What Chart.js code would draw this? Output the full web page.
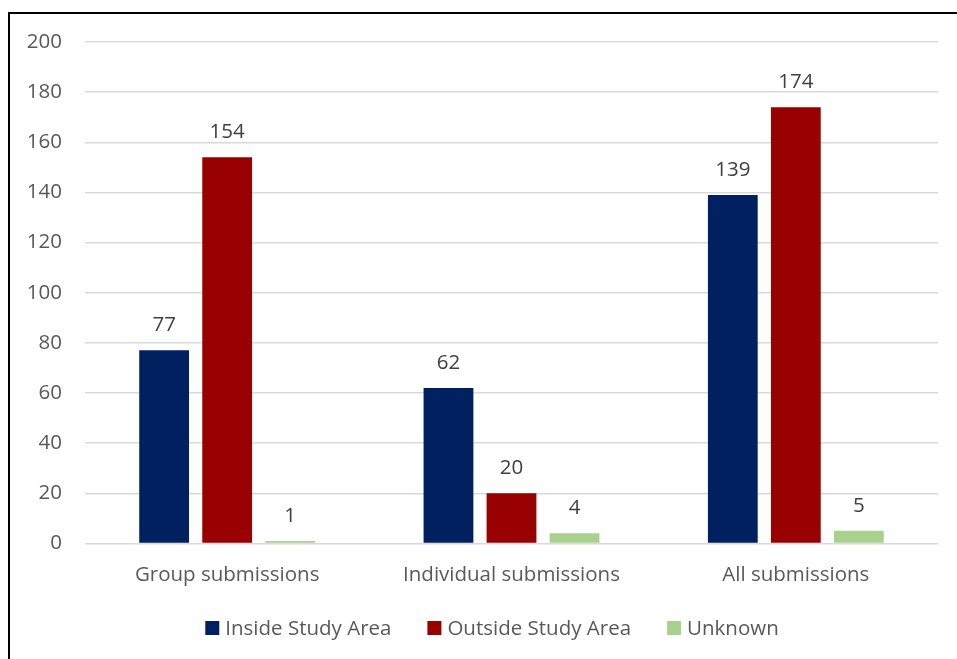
<!DOCTYPE html>
<html>
<head>
<meta charset="utf-8">
<script src="https://cdn.jsdelivr.net/npm/chart.js@4.4.1/dist/chart.umd.min.js"></script>
<style>
  html, body { margin: 0; padding: 0; width: 957px; height: 659px; overflow: hidden; background: #fff; }
  #wrap { position: absolute; left: 0; top: 0; width: 957px; height: 659px; }
  #frame { position: absolute; left: 8px; top: 12px; width: 960px; height: 660px;
           border-left: 2px solid #000; border-top: 2px solid #000; pointer-events: none; }
</style>
</head>
<body>
<div id="wrap"><canvas id="c"></canvas></div>
<div id="frame"></div>
<script>
const categories = ['Group submissions', 'Individual submissions', 'All submissions'];
const insideStudyArea = [77, 62, 139];
const outsideStudyArea = [154, 20, 174];
const unknown = [1, 4, 5];
const seriesNames = ['Inside Study Area', 'Outside Study Area', 'Unknown'];
const seriesColors = ['#002060', '#990000', '#A9D18E'];
const yTicks = [0, 20, 40, 60, 80, 100, 120, 140, 160, 180, 200];

const FONT = "'Open Sans', sans-serif";
const SIZE = 20.5;
const TEXT = '#595959';

// Writes each bar's value just above it
const valueLabels = {
  id: 'valueLabels',
  afterDatasetsDraw(chart) {
    const ctx = chart.ctx;
    ctx.save();
    ctx.font = SIZE + 'px ' + FONT;
    ctx.fillStyle = '#404040';
    ctx.textAlign = 'center';
    ctx.textBaseline = 'alphabetic';
    chart.data.datasets.forEach((ds, i) => {
      chart.getDatasetMeta(i).data.forEach((bar, j) => {
        ctx.fillText(String(ds.data[j]), bar.x, bar.y - 19);
      });
    });
    ctx.restore();
  }
};

// Single-row legend under the axis labels: square swatch, then series name
const bottomLegend = {
  id: 'bottomLegend',
  afterDraw(chart, args, opts) {
    const ctx = chart.ctx;
    ctx.save();
    ctx.font = opts.size + 'px ' + FONT;
    ctx.textBaseline = 'middle';
    ctx.textAlign = 'left';
    const items = chart.data.datasets.map(ds => ({
      text: ds.label, color: ds.backgroundColor, w: ctx.measureText(ds.label).width
    }));
    const itemW = it => opts.box + opts.boxGap + it.w;
    const total = items.reduce((s, it) => s + itemW(it), 0) + opts.gap * (items.length - 1);
    let x = opts.centerX - total / 2;
    const y = opts.y;
    items.forEach(it => {
      ctx.fillStyle = it.color;
      ctx.fillRect(x, y - opts.box / 2, opts.box, opts.box);
      ctx.fillStyle = TEXT;
      ctx.fillText(it.text, x + opts.box + opts.boxGap, y + 1);
      x += itemW(it) + opts.gap;
    });
    ctx.restore();
  }
};

new Chart(document.getElementById('c'), {
  type: 'bar',
  data: {
    labels: categories,
    datasets: [
      { label: seriesNames[0], data: insideStudyArea, backgroundColor: seriesColors[0] },
      { label: seriesNames[1], data: outsideStudyArea, backgroundColor: seriesColors[1] },
      { label: seriesNames[2], data: unknown, backgroundColor: seriesColors[2] }
    ]
  },
  options: {
    responsive: true,
    maintainAspectRatio: false,
    animation: false,
    layout: { padding: { top: 42, right: 19, bottom: 53, left: 0 } },
    datasets: { bar: { categoryPercentage: 0.665, barPercentage: 0.79 } },
    scales: {
      x: {
        grid: { display: false, drawTicks: false },
        border: { display: false },
        ticks: { color: TEXT, font: { family: FONT, size: SIZE }, padding: 19 }
      },
      y: {
        min: 0, max: 200,
        afterBuildTicks(scale) { scale.ticks = yTicks.map(v => ({ value: v })); },
        afterFit(scale) { scale.width = 85; },
        grid: { color: '#d9d9d9', lineWidth: 1.5, drawTicks: false },
        border: { display: false },
        ticks: { color: TEXT, font: { family: FONT, size: SIZE }, padding: 23 }
      }
    },
    plugins: {
      legend: { display: false },
      tooltip: { enabled: false },
      bottomLegend: { size: SIZE, box: 14, boxGap: 6, gap: 36, centerX: 492, y: 628 }
    }
  },
  plugins: [valueLabels, bottomLegend]
});
</script>
</body>
</html>
